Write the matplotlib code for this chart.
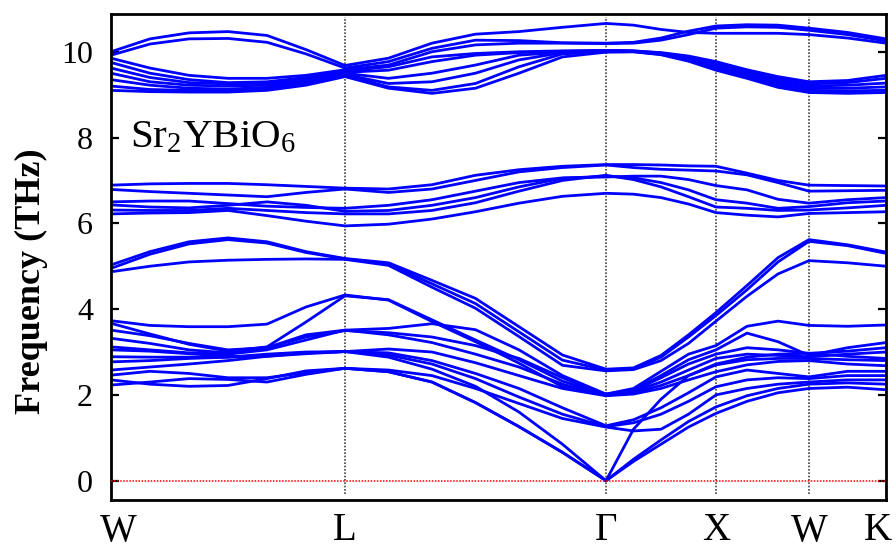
import numpy as np
import matplotlib
matplotlib.use("Agg")
import matplotlib.pyplot as plt
import matplotlib.transforms as mtransforms

plt.rcParams['font.family'] = ['Liberation Serif', 'DejaVu Serif']
plt.rcParams['mathtext.fontset'] = 'custom'
plt.rcParams['mathtext.rm'] = 'Liberation Serif'
plt.rcParams['mathtext.it'] = 'Liberation Serif:italic'

# ---- k-path (high-symmetry points) ----
kpoint_labels = ['W', 'L', 'Γ', 'X', 'W', 'K']
kpoint_pos = [0.0, 2.34, 4.95, 6.05, 6.98, 7.75]
seg_intervals = [6, 6, 4, 3, 2]   # sampling intervals along each segment

# ---- phonon branches (THz), sampled along W-L-Γ-X-W-K ----
# optical, top group
T1 = [10.00, 10.30, 10.44, 10.47, 10.38, 10.05, 9.68, 9.85, 10.20, 10.41, 10.47, 10.57, 10.66, 10.62, 10.52, 10.45, 10.43, 10.43, 10.43, 10.40, 10.32, 10.20]
T2 = [9.92, 10.18, 10.30, 10.31, 10.22, 9.95, 9.62, 9.77, 10.08, 10.27, 10.26, 10.21, 10.20, 10.22, 10.32, 10.48, 10.60, 10.63, 10.62, 10.55, 10.45, 10.30]
T3 = [9.85, 9.62, 9.45, 9.38, 9.38, 9.45, 9.58, 9.69, 10.00, 10.16, 10.20, 10.20, 10.19, 10.20, 10.27, 10.40, 10.55, 10.58, 10.57, 10.50, 10.40, 10.25]
T4 = [9.75, 9.50, 9.35, 9.28, 9.30, 9.40, 9.55, 9.65, 9.88, 9.96, 10.00, 10.02, 10.03, 10.02, 9.98, 9.90, 9.77, 9.58, 9.42, 9.30, 9.33, 9.45]
T5 = [9.62, 9.40, 9.28, 9.25, 9.27, 9.36, 9.52, 9.57, 9.77, 9.92, 9.98, 10.01, 10.03, 10.02, 9.97, 9.88, 9.73, 9.54, 9.37, 9.25, 9.28, 9.38]
T6 = [9.50, 9.30, 9.22, 9.20, 9.22, 9.32, 9.50, 9.38, 9.50, 9.69, 9.92, 9.99, 10.03, 10.01, 9.96, 9.85, 9.69, 9.50, 9.32, 9.20, 9.22, 9.27]
T7 = [9.35, 9.22, 9.15, 9.13, 9.17, 9.28, 9.47, 9.26, 9.30, 9.50, 9.81, 9.98, 10.02, 10.01, 9.95, 9.82, 9.65, 9.46, 9.27, 9.15, 9.15, 9.18]
T8 = [9.20, 9.12, 9.10, 9.10, 9.13, 9.25, 9.45, 9.18, 9.10, 9.26, 9.65, 9.95, 10.00, 10.00, 9.94, 9.80, 9.61, 9.42, 9.22, 9.10, 9.09, 9.10]
T9 = [9.10, 9.07, 9.06, 9.06, 9.10, 9.22, 9.42, 9.15, 9.03, 9.15, 9.50, 9.88, 9.99, 10.00, 9.93, 9.78, 9.57, 9.38, 9.17, 9.05, 9.03, 9.05]

# optical, middle group
M1 = [6.89, 6.92, 6.93, 6.93, 6.90, 6.86, 6.82, 6.80, 6.90, 7.12, 7.25, 7.33, 7.37, 7.37, 7.36, 7.34, 7.33, 7.17, 7.00, 6.89, 6.88, 6.87]
M2 = [6.79, 6.74, 6.70, 6.66, 6.62, 6.72, 6.80, 6.72, 6.80, 7.00, 7.20, 7.30, 7.36, 7.30, 7.26, 7.24, 7.22, 7.13, 6.95, 6.75, 6.76, 6.77]
M3 = [6.50, 6.52, 6.52, 6.46, 6.40, 6.37, 6.35, 6.42, 6.55, 6.75, 6.95, 7.06, 7.08, 7.10, 7.10, 7.02, 6.88, 6.78, 6.56, 6.47, 6.55, 6.60]
M4 = [6.43, 6.38, 6.36, 6.42, 6.50, 6.42, 6.28, 6.30, 6.42, 6.60, 6.85, 7.05, 7.10, 7.06, 6.95, 6.78, 6.55, 6.47, 6.35, 6.39, 6.48, 6.52]
M5 = [6.31, 6.30, 6.30, 6.35, 6.30, 6.25, 6.22, 6.22, 6.30, 6.48, 6.75, 7.00, 7.12, 7.02, 6.85, 6.62, 6.38, 6.35, 6.30, 6.31, 6.36, 6.42]
M6 = [6.22, 6.24, 6.25, 6.30, 6.18, 6.05, 5.94, 5.98, 6.10, 6.27, 6.47, 6.63, 6.70, 6.68, 6.60, 6.45, 6.25, 6.19, 6.15, 6.23, 6.25, 6.27]

# low group
U1 = [5.03, 5.34, 5.57, 5.66, 5.57, 5.34, 5.18, 5.08, 4.67, 4.25, 3.59, 2.93, 2.60, 2.63, 2.92, 3.40, 3.92, 4.55, 5.20, 5.62, 5.50, 5.33]
U2 = [4.95, 5.28, 5.52, 5.62, 5.54, 5.32, 5.17, 5.05, 4.59, 4.13, 3.47, 2.81, 2.58, 2.61, 2.88, 3.35, 3.85, 4.45, 5.10, 5.58, 5.48, 5.30]
U3 = [4.87, 5.00, 5.10, 5.14, 5.16, 5.17, 5.16, 5.02, 4.51, 4.02, 3.36, 2.69, 2.56, 2.59, 2.80, 3.20, 3.72, 4.30, 4.82, 5.13, 5.08, 5.00]
O9 = [3.73, 3.62, 3.59, 3.59, 3.65, 4.05, 4.33, 4.21, 3.71, 3.24, 2.74, 2.19, 2.02, 2.15, 2.55, 2.95, 3.15, 3.60, 3.72, 3.62, 3.60, 3.63]
O8 = [3.67, 3.42, 3.18, 3.02, 3.12, 3.70, 4.31, 4.22, 3.75, 3.28, 2.82, 2.32, 2.01, 2.12, 2.45, 2.82, 3.05, 3.44, 3.24, 2.92, 3.10, 3.22]
O7 = [3.51, 3.38, 3.20, 3.05, 3.10, 3.40, 3.51, 3.55, 3.66, 3.52, 3.05, 2.45, 2.02, 2.10, 2.40, 2.72, 2.95, 3.10, 3.05, 2.97, 3.02, 3.10]
O6 = [3.32, 3.20, 3.05, 2.98, 3.10, 3.35, 3.50, 3.45, 3.35, 3.15, 2.85, 2.40, 2.00, 2.08, 2.30, 2.58, 2.85, 2.95, 2.92, 2.89, 2.95, 3.00]
O5 = [3.12, 3.05, 2.98, 2.95, 3.05, 3.28, 3.51, 3.40, 3.22, 2.95, 2.65, 2.25, 1.99, 2.05, 2.22, 2.45, 2.70, 2.82, 2.85, 2.85, 2.82, 2.80]
O4 = [3.05, 3.02, 2.96, 2.90, 2.90, 2.96, 3.01, 3.07, 3.00, 2.75, 2.45, 2.15, 1.98, 2.02, 2.15, 2.35, 2.54, 2.70, 2.78, 2.80, 2.72, 2.68]
O3 = [2.89, 2.88, 2.88, 2.88, 2.92, 2.98, 3.01, 2.98, 2.80, 2.50, 2.15, 1.70, 1.28, 1.42, 1.70, 2.05, 2.42, 2.58, 2.50, 2.42, 2.55, 2.55]
O2 = [2.77, 2.80, 2.85, 2.88, 2.95, 3.00, 3.01, 2.93, 2.72, 2.38, 1.95, 1.55, 1.26, 1.35, 1.55, 1.85, 2.19, 2.35, 2.40, 2.38, 2.45, 2.45]
O1 = [2.46, 2.55, 2.50, 2.40, 2.40, 2.52, 2.62, 2.58, 2.45, 2.15, 1.80, 1.45, 1.25, 1.16, 1.20, 1.55, 2.00, 2.15, 2.25, 2.30, 2.35, 2.35]
# acoustic
A3 = [2.58, 2.65, 2.72, 2.80, 2.90, 2.98, 3.01, 2.88, 2.60, 2.20, 1.60, 0.85, 0.00, 1.20, 1.90, 2.45, 2.72, 2.88, 2.95, 2.97, 2.90, 2.85]
A2 = [2.23, 2.30, 2.38, 2.36, 2.30, 2.48, 2.62, 2.54, 2.30, 1.82, 1.26, 0.66, 0.00, 0.50, 0.95, 1.38, 1.72, 1.98, 2.15, 2.25, 2.28, 2.25]
A1 = [2.35, 2.25, 2.20, 2.22, 2.38, 2.56, 2.62, 2.54, 2.30, 1.82, 1.26, 0.66, 0.00, 0.45, 0.85, 1.25, 1.57, 1.85, 2.05, 2.15, 2.18, 2.12]

bands = [T1, T2, T3, T4, T5, T6, T7, T8, T9,
         M1, M2, M3, M4, M5, M6,
         U1, U2, U3, O9, O8, O7, O6, O5, O4, O3, O2, O1, A3, A2, A1]

yticks = [0, 2, 4, 6, 8, 10]

# k-sampling grid along the path
kx = [kpoint_pos[0]]
for i, n in enumerate(seg_intervals):
    kx.extend(np.linspace(kpoint_pos[i], kpoint_pos[i + 1], n + 1)[1:])
kx = np.array(kx)

fig = plt.figure(figsize=(8.96, 5.52), dpi=100)
ax = fig.add_axes([111 / 896, 1 - 500 / 552, (886 - 111) / 896, (500 - 14) / 552])

ax.set_xlim(kpoint_pos[0], kpoint_pos[-1])
ax.set_ylim(-0.45, 10.88)

for p in kpoint_pos[1:-1]:
    ax.plot([p, p], [-0.3, 10.8], color='#444444', lw=1.2, ls=(0, (1, 1)), zorder=1)
ax.axhline(0, color='red', lw=1.1, ls=(0, (1, 1)), zorder=3)

for b in bands:
    ax.plot(kx, b, color='#0000ff', lw=2.0, zorder=2, solid_joinstyle='round')

ax.set_xticks(kpoint_pos)
ax.set_xticklabels(kpoint_labels, fontsize=28)
ax.tick_params(axis='x', length=0, pad=9)
# nudge edge labels like the reference
xlabels = ax.get_xticklabels()
xlabels[0].set_transform(xlabels[0].get_transform() +
                         mtransforms.ScaledTranslation(7 / 100, 0, fig.dpi_scale_trans))
xlabels[-1].set_transform(xlabels[-1].get_transform() +
                          mtransforms.ScaledTranslation(-8 / 100, 0, fig.dpi_scale_trans))

ax.set_yticks(yticks)
ax.set_yticklabels([str(t) for t in yticks], fontsize=23)
ax.tick_params(axis='y', direction='in', length=6, width=1.6, right=True, pad=13)
for s in ax.spines.values():
    s.set_linewidth(2.0)

ax.set_ylabel('Frequency (THz)', fontsize=26, fontweight='bold')
ax.yaxis.set_label_coords(-0.081, 0.45)

ax.text(kpoint_pos[0] + 0.19, 7.78, r'Sr$_2$YBiO$_6$', fontsize=29.5, ha='left', va='baseline')

fig.savefig('out.png', dpi=100)
